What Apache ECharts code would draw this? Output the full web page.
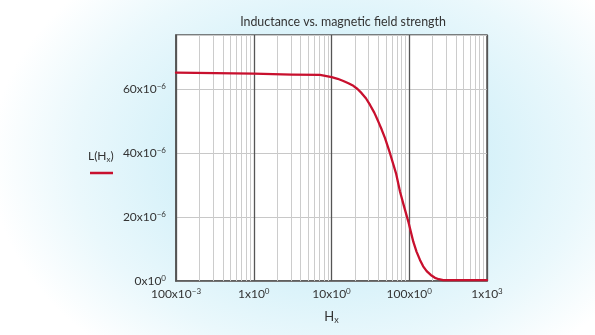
<!DOCTYPE html>
<html>
<head>
<meta charset="utf-8">
<script src="https://cdn.jsdelivr.net/npm/echarts@6/dist/echarts.min.js"></script>
<style>
html,body{margin:0;padding:0;width:595px;height:335px;overflow:hidden;
background: radial-gradient(ellipse 340px 250px at 330px 160px, #c6ebf6 0%, #d6f1f9 45%, #eaf8fc 75%, #ffffff 100%);}
#c{width:595px;height:335px;}
</style>
</head>
<body>
<div id="c"></div>
<script>
// Data (H in A/m, L in henries)
const H = [0.1, 1, 3.1, 7.11, 10.06, 12.0, 14.2, 16.5, 19.1, 21.6, 24.4, 27.7, 31.3, 35.5, 40.0, 44.2, 48.8, 56.5, 67.6, 76.0, 86.0, 97.3, 112.7, 124.0, 137.4, 151.0, 167.5, 189.0, 214, 240, 274, 1000];
const L = [65.2e-6, 64.9e-6, 64.6e-6, 64.5e-6, 63.8e-6, 63.3e-6, 62.6e-6, 61.9e-6, 61.1e-6, 60.1e-6, 58.8e-6, 57.2e-6, 55.1e-6, 52.7e-6, 49.9e-6, 47.4e-6, 44.7e-6, 40.0e-6, 33.7e-6, 28.0e-6, 23.2e-6, 18.6e-6, 12.3e-6, 9.2e-6, 6.6e-6, 4.6e-6, 3.1e-6, 1.9e-6, 1.0e-6, 0.55e-6, 0.3e-6, 0.3e-6];
const xTickLabels = {0.1: ['100x10', '−3'], 1: ['1x10', '0'], 10: ['10x10', '0'], 100: ['100x10', '0'], 1000: ['1x10', '3']};
const yTickLabels = {0: ['0x10', '0'], 20: ['20x10', '−6'], 40: ['40x10', '−6'], 60: ['60x10', '−6']};
const minorTicks = [0.2,0.3,0.4,0.5,0.6,0.7,0.8,0.9, 2,3,4,5,6,7,8,9, 20,30,40,50,60,70,80,90, 200,300,400,500,600,700,800,900];
const titleText = 'Inductance vs. magnetic field strength';

const FONT = 'Lato';
const chart = echarts.init(document.getElementById('c'), null, {renderer: 'canvas'});
const rich = {
  b: {fontFamily: FONT, fontSize: 12, color: '#333'},
  s: {fontFamily: FONT, fontSize: 8, color: '#333', verticalAlign: 'top', padding: [0,0,6,0]}
};
chart.setOption({
  animation: false,
  title: {text: titleText, left: 338, top: 11, textAlign: 'center',
    textStyle: {fontFamily: FONT, fontSize: 12.4, fontWeight: 'normal', color: '#333'}},
  grid: {left: 176, top: 35, right: 108, bottom: 54, containLabel: false, show: true,
    backgroundColor: '#ffffff', borderColor: '#555', borderWidth: 1.5},
  xAxis: {
    type: 'log', logBase: 10, min: 0.1, max: 1000,
    name: '{b|H}{sub|x}', nameLocation: 'middle', nameGap: 27,
    nameTextStyle: {rich: {b: {fontFamily: FONT, fontSize: 13, color: '#333'},
      sub: {fontFamily: FONT, fontSize: 9, color: '#333', verticalAlign: 'bottom', padding: [8,0,0,0]}}},
    axisLine: {show: true, lineStyle: {color: '#555', width: 1.5}},
    axisTick: {show: false},
    splitLine: {show: true, lineStyle: {color: '#555', width: 1.3}},
    axisLabel: {margin: 6, formatter: function (v) {
      const k = Object.keys(xTickLabels).find(key => Math.abs(Math.log10(+key) - Math.log10(v)) < 1e-6);
      if (!k) return '';
      return '{b|' + xTickLabels[k][0] + '}{s|' + xTickLabels[k][1] + '}';
    }, rich: rich}
  },
  yAxis: {
    type: 'value', min: 0, max: 77e-6, interval: 20e-6,
    axisLine: {show: true, lineStyle: {color: '#555', width: 1.5}},
    axisTick: {show: false},
    splitLine: {show: true, lineStyle: {color: '#c8c8c8', width: 1}},
    axisLabel: {margin: 10, formatter: function (v) {
      const k = Math.round(v * 1e6);
      if (!yTickLabels[k]) return '';
      return '{b|' + yTickLabels[k][0] + '}{s|' + yTickLabels[k][1] + '}';
    }, rich: rich}
  },
  graphic: [
    {type: 'text', left: 88, top: 150, style: {text: '{b|L(H}{sub|x}{b|)}', rich: {
      b: {fontFamily: FONT, fontSize: 12, fill: '#333', color: '#333'},
      sub: {fontFamily: FONT, fontSize: 8, fill: '#333', color: '#333', verticalAlign: 'bottom', padding: [7,0,0,0]}}}},
    {type: 'line', shape: {x1: 90, y1: 173, x2: 113, y2: 173}, style: {stroke: '#c8102e', lineWidth: 2.5}}
  ],
  series: [
    {type: 'line', data: [], z: 1, silent: true,
      markLine: {silent: true, symbol: 'none', label: {show: false},
        lineStyle: {color: '#cccccc', width: 1, type: 'solid'},
        emphasis: {disabled: true},
        data: minorTicks.map(v => ({xAxis: v}))}},
    {type: 'line', z: 5, data: H.map((h, i) => [h, L[i]]), smooth: false, showSymbol: false,
      lineStyle: {color: '#c8102e', width: 2.3, join: 'round', cap: 'round'}}
  ]
});
</script>
</body>
</html>
